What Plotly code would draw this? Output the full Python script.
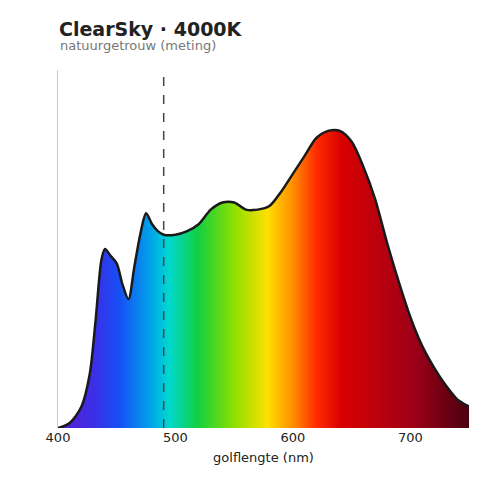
import plotly.graph_objects as go

# spectral power distribution, relative
wavelength = [400, 410, 420, 427, 432, 437, 440, 445, 450, 455, 460, 465, 470, 475,
              480, 485, 490, 500, 510, 520, 530, 540, 550, 560, 570, 580, 590, 600,
              610, 620, 630, 640, 650, 660, 670, 680, 690, 700, 710, 720, 730, 740, 750]
intensity = [0.0, 0.014, 0.06, 0.15, 0.30, 0.47, 0.50, 0.48, 0.46, 0.40, 0.36, 0.45,
             0.54, 0.60, 0.57, 0.55, 0.54, 0.54, 0.55, 0.57, 0.61, 0.63, 0.63, 0.61,
             0.61, 0.62, 0.66, 0.71, 0.76, 0.81, 0.83, 0.83, 0.80, 0.73, 0.64, 0.52,
             0.41, 0.31, 0.23, 0.17, 0.12, 0.08, 0.06]
marker_nm = 490

spectrum = [
    [0.00, "#5a1bd0"], [0.09, "#3a30e8"], [0.15, "#1650f5"], [0.23, "#00a8e8"],
    [0.27, "#00d8d0"], [0.34, "#10d040"], [0.43, "#90e000"], [0.51, "#ffe000"],
    [0.57, "#ff9000"], [0.63, "#ff2a00"], [0.69, "#d80000"], [0.86, "#a00018"],
    [1.00, "#4a0010"],
]

fig = go.Figure()
fig.add_trace(go.Scatter(
    x=wavelength, y=intensity, mode="lines",
    line=dict(color="#1a1a1a", width=2.5, shape="spline", smoothing=0.8),
    fill="tozeroy",
    fillgradient=dict(type="horizontal", colorscale=spectrum),
    hoverinfo="skip", showlegend=False,
))
fig.add_shape(type="line", x0=marker_nm, x1=marker_nm, y0=0, y1=1, yref="paper",
              line=dict(color="#444", width=1.5, dash="dash"))

fig.add_annotation(text="<b>ClearSky · 4000K</b>", xref="paper", yref="paper",
                   x=0, y=1, xshift=-1, yshift=41, xanchor="left", yanchor="middle",
                   showarrow=False, font=dict(size=19, color="#222"))
fig.add_annotation(text="natuurgetrouw (meting)", xref="paper", yref="paper",
                   x=0, y=1, yshift=25, xanchor="left", yanchor="middle",
                   showarrow=False, font=dict(size=13, color="#777"))

fig.update_layout(
    width=500, height=500,
    margin=dict(l=50, r=39, t=62, b=80),
    plot_bgcolor="white", paper_bgcolor="white",
    font=dict(family="DejaVu Sans", color="#222"),
)
fig.update_xaxes(range=[400, 750], tickvals=[400, 500, 600, 700], showgrid=False,
                 tickfont=dict(size=13),
                 title=dict(text="golflengte (nm)", font=dict(size=13), standoff=8),
                 ticks="", zeroline=False, showline=False)
fig.update_yaxes(range=[0, 1], showticklabels=False, showgrid=False, zeroline=False,
                 showline=True, linecolor="#ccc", linewidth=1)

fig.write_html("out.html")
